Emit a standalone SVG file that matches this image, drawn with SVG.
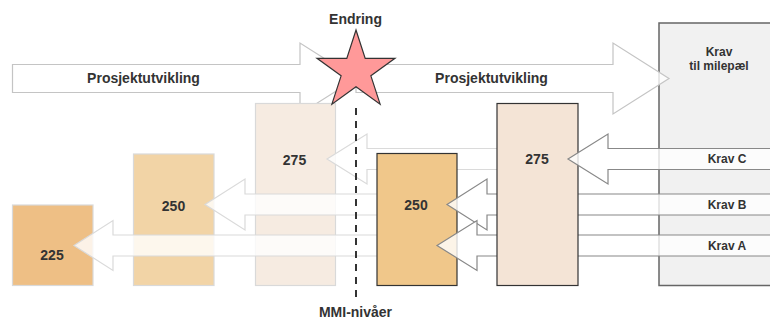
<svg xmlns="http://www.w3.org/2000/svg" width="770" height="320" viewBox="0 0 770 320">
  <style>
    text { font-family: "Liberation Sans", Arial, sans-serif; font-weight: bold; fill: #333; text-anchor: middle; }
    .big { font-size: 14px; }
    .small { font-size: 12px; }
    .flow { fill: #fff; stroke: #c4c4c4; stroke-width: 1.2; }
    .req { fill: #fff; fill-opacity: 0.8; stroke: #888; stroke-width: 1.2; }
    .req-old { fill: #fff; fill-opacity: 0.8; stroke: #dadada; stroke-width: 1.2; }
    .box-old { stroke: #d9d9d9; stroke-width: 1.2; }
    .box-new { stroke: #333; stroke-width: 1.2; }
  </style>

  <!-- milestone requirement column -->
  <g id="milestone">
    <rect x="659" y="23" width="125" height="262.5" fill="#f1f1f1" stroke="#666" stroke-width="1.5"/>
    <text class="small" x="719" y="56">Krav</text>
    <text class="small" x="719" y="70">til milepæl</text>
  </g>

  <!-- project development flow -->
  <g id="flow-before">
    <path class="flow" d="M12.5,64.5 L300,64.5 L300,43 L356,78.5 L300,114 L300,92.5 L12.5,92.5 Z"/>
    <text class="big" x="143.5" y="83">Prosjektutvikling</text>
  </g>
  <g id="flow-after">
    <path class="flow" fill-opacity="0.8" d="M356,64.5 L613,64.5 L613,43 L669,78.5 L613,114 L613,92.5 L356,92.5 Z"/>
    <text class="big" x="491.5" y="83">Prosjektutvikling</text>
  </g>

  <!-- earlier MMI levels -->
  <g id="mmi-225-old">
    <rect class="box-old" x="12.5" y="205" width="80.5" height="80.5" fill="#eebf85"/>
    <text class="big" x="52" y="260">225</text>
  </g>
  <g id="mmi-250-old">
    <rect class="box-old" x="133.5" y="154" width="80.5" height="131.5" fill="#f2d4a6"/>
    <text class="big" x="173.5" y="211">250</text>
  </g>
  <g id="mmi-275-old">
    <rect class="box-old" x="255.5" y="103.5" width="80" height="182" fill="#f6ebe1"/>
    <text class="big" x="294.5" y="165">275</text>
  </g>

  <!-- earlier requirement links -->
  <g id="connectors-old">
    <path class="req-old" d="M327,159 L367,134 L367,148.5 L560,148.5 L560,169.5 L367,169.5 L367,184 Z"/>
    <path class="req-old" d="M205,204.5 L245,179 L245,194 L420,194 L420,215 L245,215 L245,230 Z"/>
    <path class="req-old" d="M74,245.5 L113,220.5 L113,235 L420,235 L420,256 L113,256 L113,270.5 Z"/>
  </g>

  <!-- MMI level boundary -->
  <line x1="356" y1="108" x2="356" y2="297" stroke="#333" stroke-width="2" stroke-dasharray="7 6"/>

  <!-- current MMI levels and requirement links -->
  <g id="mmi-250">
    <rect class="box-new" x="377" y="153.5" width="80" height="132" fill="#f0c78a"/>
    <text class="big" x="416" y="210">250</text>
  </g>
  <g id="connectors-ab">
    <path class="req" d="M447,204.5 L487,179 L487,194 L780,194 L780,215 L487,215 L487,230 Z"/>
    <path class="req" d="M437,245.5 L477,220.5 L477,235 L780,235 L780,256 L477,256 L477,270.5 Z"/>
  </g>
  <g id="mmi-275">
    <rect class="box-new" x="497" y="103.5" width="81" height="182" fill="#f4e4d6"/>
    <text class="big" x="537" y="164">275</text>
  </g>
  <g id="connectors-c">
    <path class="req" d="M568,159 L608,134 L608,148.5 L780,148.5 L780,169.5 L608,169.5 L608,184 Z"/>
  </g>

  <g id="requirement-labels">
    <text class="small" x="727" y="163">Krav C</text>
    <text class="small" x="727" y="209">Krav B</text>
    <text class="small" x="727" y="250">Krav A</text>
  </g>

  <!-- change event -->
  <g id="change">
    <path d="M356,30 L365.2,58.33 L395,58.33 L370.89,75.84 L380.1,104.17 L356,86.66 L331.9,104.17 L341.11,75.84 L317,58.33 L346.8,58.33 Z" fill="#ff9999" stroke="#333" stroke-width="1.2" stroke-linejoin="miter"/>
    <text class="big" x="355.5" y="24">Endring</text>
  </g>

  <g id="mmi-label">
    <text class="big" x="355.5" y="317">MMI-nivåer</text>
  </g>
</svg>
